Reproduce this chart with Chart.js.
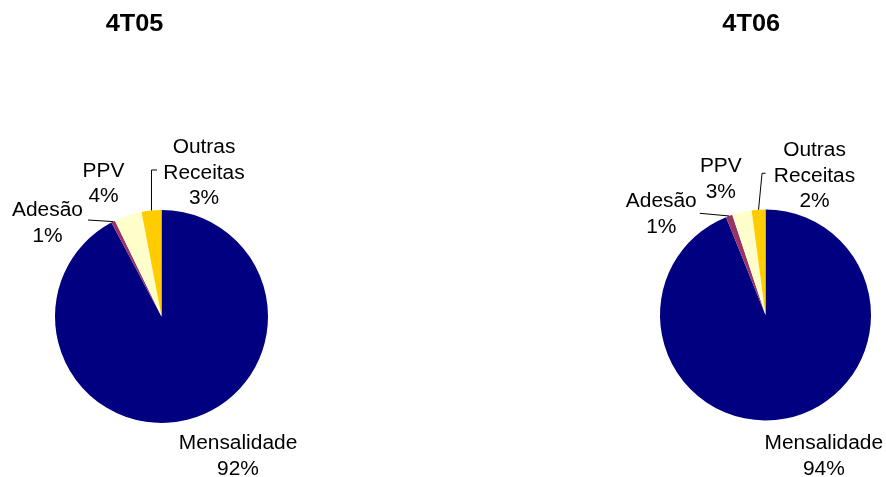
<!DOCTYPE html>
<html>
<head>
<meta charset="utf-8">
<script src="https://cdn.jsdelivr.net/npm/chart.js@4.4.1/dist/chart.umd.min.js"></script>
<style>
  html, body { margin: 0; padding: 0; background: #ffffff; }
  #wrap { position: relative; width: 886px; height: 477px; overflow: hidden; background: #fff; }
  canvas { position: absolute; top: 0; }
</style>
</head>
<body>
<div id="wrap">
  <canvas id="c1" width="443" height="477" style="left:0px"></canvas>
  <canvas id="c2" width="443" height="477" style="left:443px"></canvas>
</div>
<script>
// ---- data ----
const categories = ['Mensalidade', 'Adesão', 'PPV', 'Outras Receitas'];
const values4T05 = [92.2, 0.6, 4.2, 3.0];
const values4T06 = [93.9, 1.0, 3.0, 2.1];
const periodTitles = ['4T05', '4T06'];

// ---- styles / layout ----
const sliceColors = ['#000080', '#993366', '#FFFFCC', '#FFCC00'];
const LABEL_FONT = '20px "Liberation Sans", Arial, sans-serif';
const TITLE_FONT = 'bold 23px "Liberation Sans", Arial, sans-serif';
const LINE_GAP = 25.5;

const layouts = [
  {
    padding: { left: 55, right: 175, top: 210, bottom: 54 },
    titleX: 134.5, titleBase: 31,
    labelOffsets: [[76.5, 125.5], [-114, -107.5], [-58, -147], [42.5, -170.5]],
    leaders: {
      1: { type: 'straight', from: [-73.5, -96.5] },
      3: { type: 'elbow', topDx: 0, y: -146.5, endX: -4.5 }
    }
  },
  {
    padding: { left: 217, right: 15, top: 209.5, bottom: 56.5 },
    titleX: 308.2, titleBase: 31,
    labelOffsets: [[58.3, 127], [-104.2, -115], [-44.7, -150], [49, -166]],
    leaders: {
      1: { type: 'straight', from: [-65.7, -101.7] },
      3: { type: 'elbow', topDx: 3.5, y: -141.7, endX: 0 }
    }
  }
];

function drawStretched(ctx, text, x, y, sx) {
  ctx.save();
  ctx.translate(x, y);
  ctx.scale(sx, 1);
  ctx.fillText(text, 0, 0);
  ctx.restore();
}

const labelPlugin = {
  id: 'pieLabels',
  afterDraw(chart, args, opts) {
    const ctx = chart.ctx;
    const lay = opts.layout;
    const meta = chart.getDatasetMeta(0);
    const arcs = meta.data;
    const vals = chart.data.datasets[0].data;
    const total = vals.reduce((a, b) => a + b, 0);
    const cx = arcs[0].x, cy = arcs[0].y, r = arcs[0].outerRadius;

    ctx.save();
    // title
    ctx.fillStyle = '#000';
    ctx.font = TITLE_FONT;
    ctx.textAlign = 'center';
    ctx.textBaseline = 'alphabetic';
    drawStretched(ctx, opts.title, lay.titleX, lay.titleBase, 1.1);

    // leader lines
    ctx.strokeStyle = '#000';
    ctx.lineWidth = 1;
    Object.keys(lay.leaders).forEach(k => {
      const idx = +k;
      const L = lay.leaders[k];
      const a = arcs[idx];
      const mid = (a.startAngle + a.endAngle) / 2;
      const px = cx + r * Math.cos(mid), py = cy + r * Math.sin(mid);
      ctx.beginPath();
      if (L.type === 'straight') {
        ctx.moveTo(cx + L.from[0], cy + L.from[1]);
        ctx.lineTo(px, py);
      } else {
        ctx.moveTo(px, py);
        ctx.lineTo(px + L.topDx, cy + L.y);
        ctx.lineTo(cx + L.endX, cy + L.y);
      }
      ctx.stroke();
    });

    // labels
    ctx.font = LABEL_FONT;
    ctx.fillStyle = '#000';
    ctx.textAlign = 'center';
    ctx.textBaseline = 'alphabetic';
    chart.data.labels.forEach((lab, i) => {
      const lines = lab.split(' ');
      lines.push(Math.round(vals[i] / total * 100) + '%');
      const [dx, dy] = lay.labelOffsets[i];
      lines.forEach((t, j) => {
        drawStretched(ctx, t, cx + dx, cy + dy + j * LINE_GAP + 7.2, 1.045);
      });
    });
    ctx.restore();
  }
};

function makePie(canvasId, values, title, lay) {
  return new Chart(document.getElementById(canvasId), {
    type: 'pie',
    data: {
      labels: categories,
      datasets: [{
        data: values,
        backgroundColor: sliceColors,
        borderWidth: 0
      }]
    },
    options: {
      responsive: false,
      animation: false,
      layout: { padding: lay.padding },
      plugins: {
        legend: { display: false },
        tooltip: { enabled: false },
        title: { display: false },
        pieLabels: { title: title, layout: lay }
      }
    },
    plugins: [labelPlugin]
  });
}

makePie('c1', values4T05, periodTitles[0], layouts[0]);
makePie('c2', values4T06, periodTitles[1], layouts[1]);
</script>
</body>
</html>
